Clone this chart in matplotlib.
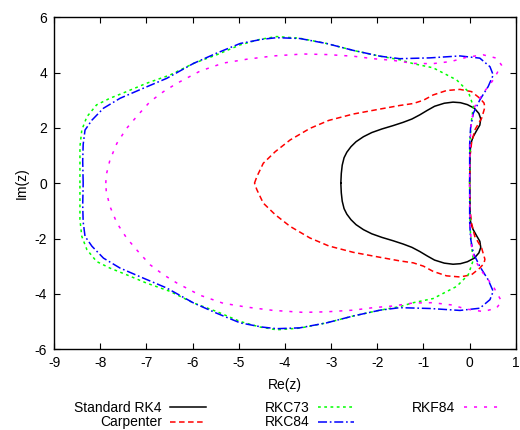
import numpy as np
import matplotlib
matplotlib.use("Agg")
from matplotlib import pyplot as plt

plt.rcParams['font.family'] = ['Liberation Sans', 'DejaVu Sans']
plt.rcParams['lines.scale_dashes'] = False
plt.rcParams['axes.unicode_minus'] = False

# upper half of each stability boundary (Re, Im), lower half is the mirror image
rk4_re = np.array([-2.79, -2.78, -2.76, -2.72, -2.66, -2.57, -2.46, -2.30, -2.12, -1.90,
                   -1.66, -1.44, -1.25, -1.08, -0.92, -0.76, -0.55, -0.36, -0.20, -0.05,
                   0.10, 0.20, 0.24, 0.22, 0.15, 0.07, 0.02, 0.01, 0.0])
rk4_im = np.array([0.0, 0.35, 0.65, 0.92, 1.12, 1.32, 1.50, 1.68, 1.83, 1.96,
                   2.08, 2.20, 2.32, 2.47, 2.63, 2.78, 2.89, 2.93, 2.91, 2.84,
                   2.71, 2.52, 2.32, 2.10, 1.90, 1.66, 1.40, 1.00, 0.0])

carp_re = np.array([-4.66, -4.61, -4.47, -4.21, -3.89, -3.46, -3.05, -2.52, -1.94, -1.51,
                    -1.22, -1.00, -0.79, -0.50, -0.21, 0.04, 0.22, 0.31, 0.33, 0.26,
                    0.11, 0.04, 0.01, 0.0])
carp_im = np.array([0.0, 0.23, 0.72, 1.14, 1.56, 1.98, 2.27, 2.50, 2.68, 2.81,
                    2.88, 3.00, 3.19, 3.35, 3.39, 3.31, 3.07, 2.90, 2.75, 2.35,
                    1.92, 1.44, 1.00, 0.0])

rkc73_re = np.array([-8.44, -8.44, -8.44, -8.40, -8.29, -8.08, -7.79, -7.43, -7.00, -6.49,
                     -5.98, -5.48, -4.97, -4.54, -4.18, -3.68, -3.10, -2.52, -1.94, -1.51,
                     -1.22, -0.79, -0.50, -0.28, -0.03, 0.08, 0.04, 0.01, 0.0])
rkc73_im = np.array([0.0, 0.70, 1.32, 1.92, 2.40, 2.83, 3.07, 3.31, 3.61, 3.91,
                     4.33, 4.64, 5.00, 5.20, 5.30, 5.24, 5.05, 4.80, 4.59, 4.46,
                     4.32, 4.17, 3.92, 3.73, 3.31, 2.77, 2.28, 1.60, 0.0])

rkc84_re = np.array([-8.37, -8.38, -8.37, -8.33, -8.18, -7.93, -7.57, -7.07, -6.56, -5.98,
                     -5.48, -4.97, -4.50, -4.18, -3.68, -3.10, -2.52, -1.94, -1.51, -0.86,
                     -0.21, 0.22, 0.44, 0.51, 0.40, 0.22, 0.08, 0.02, 0.0, 0.0])
rkc84_im = np.array([0.0, 0.80, 1.40, 1.92, 2.28, 2.71, 3.07, 3.43, 3.79, 4.33,
                     4.70, 5.05, 5.20, 5.26, 5.23, 5.05, 4.80, 4.59, 4.50, 4.53,
                     4.60, 4.52, 4.21, 3.91, 3.49, 3.01, 2.53, 2.00, 1.40, 0.0])

rkf84_re = np.array([-7.88, -7.87, -7.79, -7.64, -7.43, -7.18, -6.92, -6.63, -6.34, -5.84,
                     -5.34, -4.83, -4.25, -3.60, -3.10, -2.52, -2.09, -1.66, -1.22, -0.80,
                     -0.40, -0.07, 0.29, 0.58, 0.69, 0.51, 0.29, 0.11, 0.04, 0.01, 0.0])
rkf84_im = np.array([0.0, 0.30, 0.84, 1.44, 1.98, 2.47, 2.95, 3.31, 3.61, 4.05,
                     4.34, 4.48, 4.60, 4.67, 4.65, 4.59, 4.50, 4.44, 4.33, 4.32,
                     4.40, 4.55, 4.64, 4.52, 4.27, 3.73, 3.25, 2.77, 2.28, 1.50, 0.0])

labels = ['Standard RK4', 'Carpenter', 'RKC73', 'RKC84', 'RKF84']


def closed(re, im):
    x = np.concatenate([re, re[::-1][1:]])
    y = np.concatenate([im, -im[::-1][1:]])
    return x, y


fig = plt.figure(figsize=(5.2, 4.3), dpi=100)
ax = fig.add_axes([0.104, 0.188, 0.888, 0.772])

lw = 1.1
styles = [
    dict(color='black', linestyle='-'),
    dict(color='#ff0000', linestyle=(0, (4.0, 2.5))),
    dict(color='#00ff00', linestyle=(0, (2.0, 2.5))),
    dict(color='#0000ff', linestyle=(0, (6.5, 2.0, 1.2, 2.0))),
    dict(color='#ff00ff', linestyle=(0, (2.2, 5.0))),
]
curves = [(rk4_re, rk4_im), (carp_re, carp_im), (rkc73_re, rkc73_im),
          (rkc84_re, rkc84_im), (rkf84_re, rkf84_im)]

for (re, im), st, lab in zip(curves, styles, labels):
    x, y = closed(re, im)
    ax.plot(x, y, lw=lw, label=lab, **st)

ax.set_xlim(-9, 1)
ax.set_ylim(-6, 6)
ax.set_xticks(np.arange(-9, 2, 1))
ax.set_yticks(np.arange(-6, 7, 2))
ax.tick_params(direction='in', top=True, right=True, length=4, width=0.8,
               labelsize=10, pad=5)
for s in ax.spines.values():
    s.set_linewidth(1.0)
ax.set_xlabel('Re(z)', fontsize=10, labelpad=6)
ax.set_ylabel('Im(z)', fontsize=10, labelpad=4)

fig.legend(loc='upper center', bbox_to_anchor=(0.552, 0.068), ncol=3,
           markerfirst=False, frameon=False, fontsize=10, handlelength=2.6,
           handletextpad=0.6, columnspacing=4.2, labelspacing=0.05,
           borderaxespad=0, borderpad=0)

fig.savefig('out.png', dpi=100)
